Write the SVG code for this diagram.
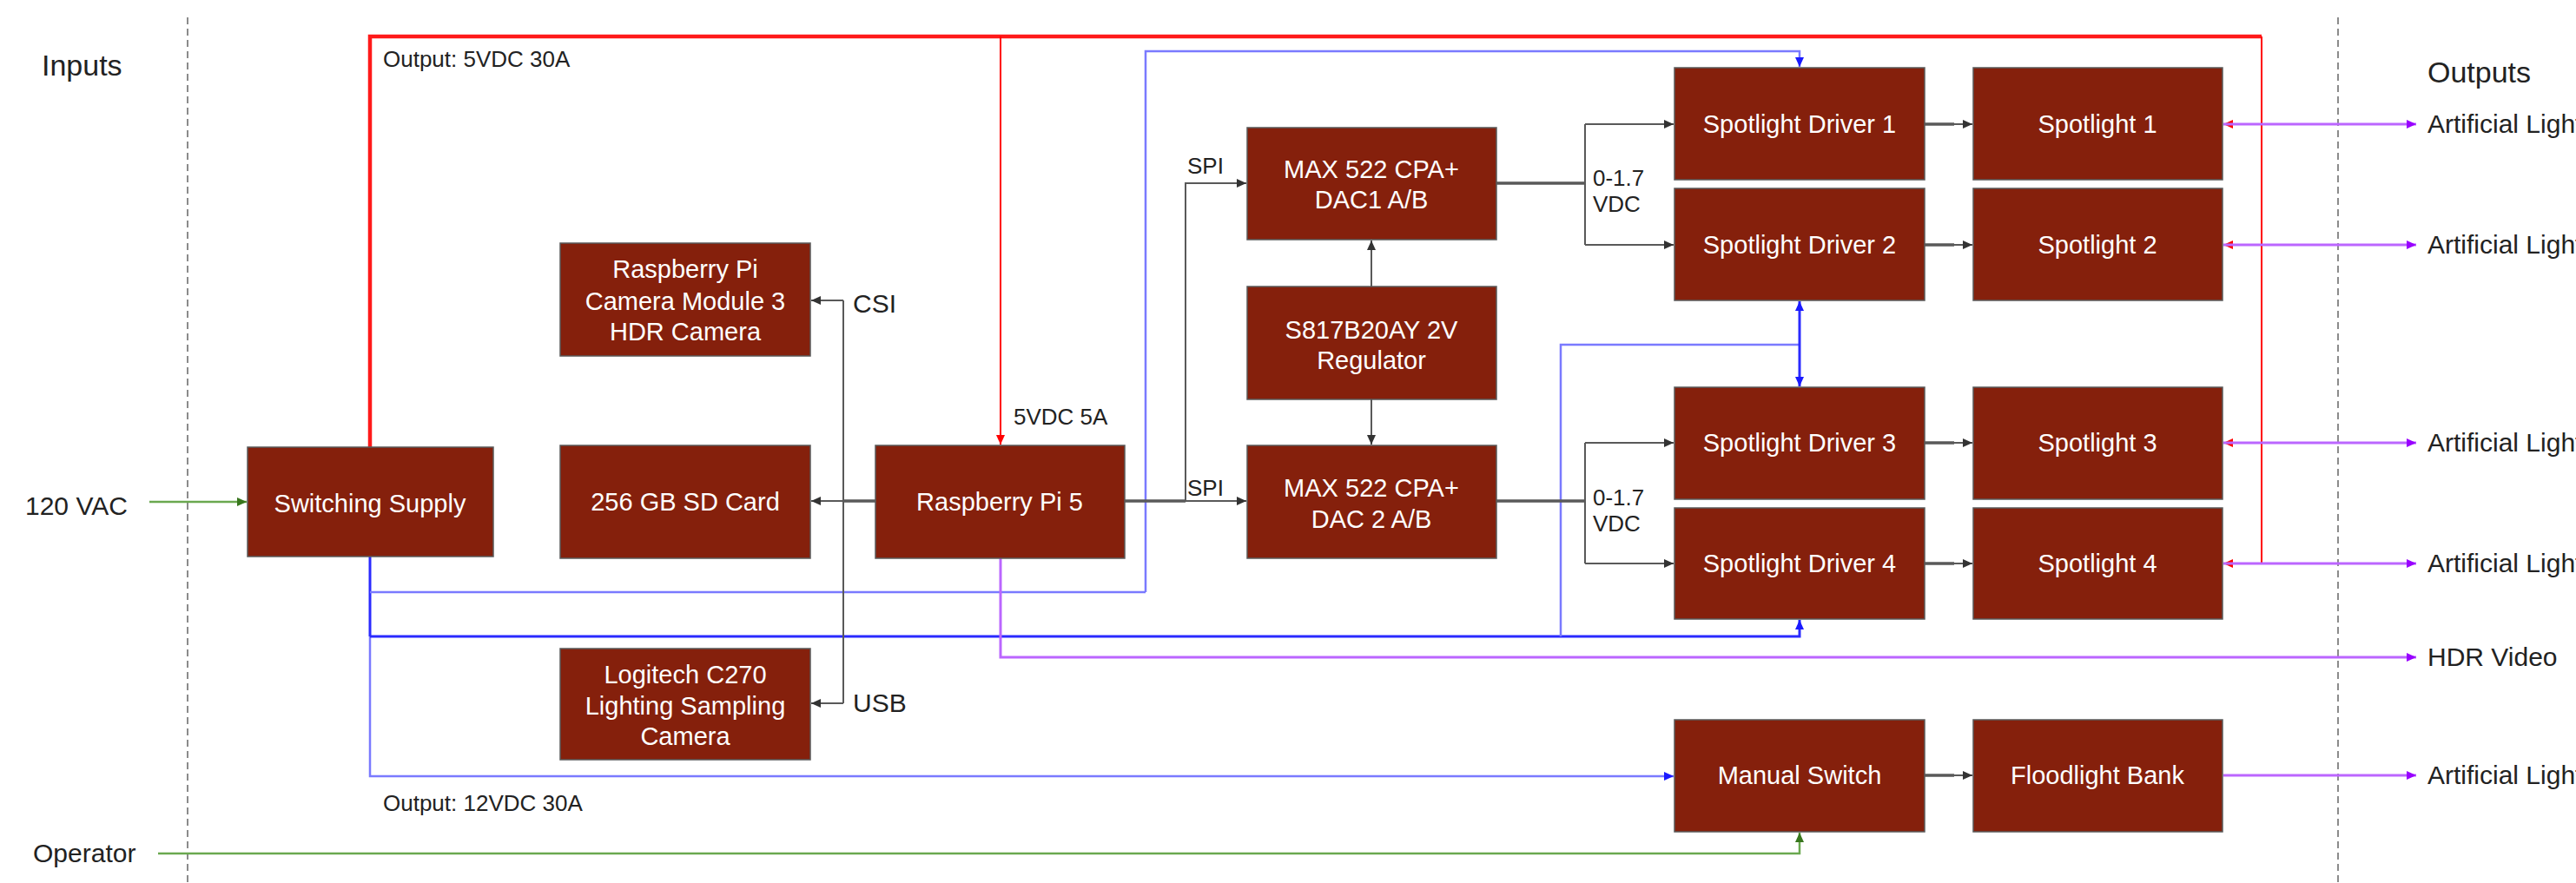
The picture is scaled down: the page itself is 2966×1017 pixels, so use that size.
<svg xmlns="http://www.w3.org/2000/svg" width="2966" height="1017" viewBox="0 0 2966 1017">
<style>
.box{fill:#85200c;stroke:#5a5a5a;stroke-width:1.5}
.bt{font-family:"Liberation Sans",Arial,sans-serif;font-size:29px;fill:#ffffff;text-anchor:middle}
.lb{font-family:"Liberation Sans",Arial,sans-serif;font-size:30px;fill:#222222}
.sm{font-family:"Liberation Sans",Arial,sans-serif;font-size:26px;fill:#222222}
.hd{font-family:"Liberation Sans",Arial,sans-serif;font-size:34px;fill:#222222}
.g{fill:none;stroke:#595959;stroke-width:2}
.gt{fill:none;stroke:#595959;stroke-width:3.5}
.r{fill:none;stroke:#ff0000;stroke-width:2}
.rt{fill:none;stroke:#ff1a1a;stroke-width:4.5}
.b{fill:none;stroke:#2a2aff;stroke-width:3}
.bl{fill:none;stroke:#7a7aff;stroke-width:2.5}
.p{fill:none;stroke:#bb66ff;stroke-width:3}
.gr{fill:none;stroke:#6aa84f;stroke-width:2.5}
.dash{fill:none;stroke:#666666;stroke-width:1.5;stroke-dasharray:8 5}
</style>
<defs>
<marker id="ag" markerUnits="userSpaceOnUse" markerWidth="12" markerHeight="10" refX="11" refY="5" orient="auto"><path d="M0,0 L11,5 L0,10 z" fill="#333333"/></marker>
<marker id="ar" markerUnits="userSpaceOnUse" markerWidth="12" markerHeight="10" refX="11" refY="5" orient="auto"><path d="M0,0 L11,5 L0,10 z" fill="#ff0000"/></marker>
<marker id="ab" markerUnits="userSpaceOnUse" markerWidth="12" markerHeight="10" refX="11" refY="5" orient="auto"><path d="M0,0 L11,5 L0,10 z" fill="#1a1aff"/></marker>
<marker id="ap" markerUnits="userSpaceOnUse" markerWidth="12" markerHeight="10" refX="11" refY="5" orient="auto"><path d="M0,0 L11,5 L0,10 z" fill="#9900ff"/></marker>
<marker id="agr" markerUnits="userSpaceOnUse" markerWidth="12" markerHeight="10" refX="11" refY="5" orient="auto"><path d="M0,0 L11,5 L0,10 z" fill="#38761d"/></marker>
</defs>
<rect width="2966" height="1017" fill="#ffffff"/>

<g id="frame">
<line class="dash" x1="216" y1="20" x2="216" y2="1017"/>
<line class="dash" x1="2692" y1="20" x2="2692" y2="1017"/>
<text class="hd" x="48" y="87">Inputs</text>
<text class="hd" x="2795" y="95">Outputs</text>
<text class="lb" x="29" y="593">120 VAC</text>
<text class="lb" x="38" y="993">Operator</text>
<text class="sm" x="441" y="77">Output: 5VDC 30A</text>
<text class="sm" x="441" y="934">Output: 12VDC 30A</text>
<text class="lb" x="982" y="360">CSI</text>
<text class="lb" x="982" y="820">USB</text>
<text class="sm" x="1367" y="200">SPI</text>
<text class="sm" x="1367" y="571">SPI</text>
<text class="sm" x="1167" y="489">5VDC 5A</text>
<text class="sm" x="1834" y="214">0-1.7</text>
<text class="sm" x="1834" y="244">VDC</text>
<text class="sm" x="1834" y="582">0-1.7</text>
<text class="sm" x="1834" y="612">VDC</text>
<text class="lb" x="2795" y="153">Artificial Light</text>
<text class="lb" x="2795" y="292">Artificial Light</text>
<text class="lb" x="2795" y="520">Artificial Light</text>
<text class="lb" x="2795" y="659">Artificial Light</text>
<text class="lb" x="2795" y="767">HDR Video</text>
<text class="lb" x="2795" y="903">Artificial Light</text>
</g>

<g id="connectors">
<path class="gr" d="M172,578 H284" marker-end="url(#agr)"/>
<path class="gr" d="M182,983 H2072 V959" marker-end="url(#agr)"/>
<path class="rt" d="M426,515 V42 H2604"/>
<path class="r" d="M2604,42 V649"/>
<path class="r" d="M1152,42 V512" marker-end="url(#ar)"/>
<path class="r" d="M2604,143 H2560" marker-end="url(#ar)"/>
<path class="r" d="M2604,282 H2560" marker-end="url(#ar)"/>
<path class="r" d="M2604,510 H2560" marker-end="url(#ar)"/>
<path class="r" d="M2604,649 H2560" marker-end="url(#ar)"/>
<path class="b" d="M426,641 V733"/>
<path class="bl" d="M426,733 V894 H1927" marker-end="url(#ab)"/>
<path class="bl" d="M426,682 H1319"/>
<path class="bl" d="M1319,682 V59 H2072 V77" marker-end="url(#ab)"/>
<path class="b" d="M426,733 H2072 V714" marker-end="url(#ab)"/>
<path class="bl" d="M1797,733 V397 H2072"/>
<path class="b" d="M2072,397 V347" marker-end="url(#ab)"/>
<path class="b" d="M2072,397 V445" marker-end="url(#ab)"/>
<path class="p" d="M1152,643 V757 H2782" marker-end="url(#ap)"/>
<path class="p" d="M2560,143 H2782" marker-end="url(#ap)"/>
<path class="p" d="M2560,282 H2782" marker-end="url(#ap)"/>
<path class="p" d="M2560,510 H2782" marker-end="url(#ap)"/>
<path class="p" d="M2560,649 H2782" marker-end="url(#ap)"/>
<path class="p" d="M2560,893 H2782" marker-end="url(#ap)"/>
<path class="gt" d="M1008,577 H971"/>
<path class="g" d="M971,577 H934" marker-end="url(#ag)"/>
<path class="g" d="M971,346 V810"/>
<path class="g" d="M971,346 H934" marker-end="url(#ag)"/>
<path class="g" d="M971,810 H934" marker-end="url(#ag)"/>
<path class="gt" d="M1295,577 H1365"/>
<path class="g" d="M1365,577 H1435" marker-end="url(#ag)"/>
<path class="g" d="M1365,577 V211 H1435" marker-end="url(#ag)"/>
<path class="gt" d="M1723,211 H1825"/>
<path class="g" d="M1825,143 V282"/>
<path class="g" d="M1825,143 H1927" marker-end="url(#ag)"/>
<path class="g" d="M1825,282 H1927" marker-end="url(#ag)"/>
<path class="gt" d="M1723,577 H1825"/>
<path class="g" d="M1825,510 V649"/>
<path class="g" d="M1825,510 H1927" marker-end="url(#ag)"/>
<path class="g" d="M1825,649 H1927" marker-end="url(#ag)"/>
<path class="g" d="M1579,330 V277" marker-end="url(#ag)"/>
<path class="g" d="M1579,460 V512" marker-end="url(#ag)"/>
<path class="gt" d="M2216,143 H2250"/><path class="g" d="M2250,143 H2271" marker-end="url(#ag)"/>
<path class="gt" d="M2216,282 H2250"/><path class="g" d="M2250,282 H2271" marker-end="url(#ag)"/>
<path class="gt" d="M2216,510 H2250"/><path class="g" d="M2250,510 H2271" marker-end="url(#ag)"/>
<path class="gt" d="M2216,649 H2250"/><path class="g" d="M2250,649 H2271" marker-end="url(#ag)"/>
<path class="gt" d="M2216,893 H2250"/><path class="g" d="M2250,893 H2271" marker-end="url(#ag)"/>
</g>

<g id="switching-supply"><rect class="box" x="285" y="515" width="283" height="126"/><text class="bt" x="426" y="590">Switching Supply</text></g>
<g id="camera-module"><rect class="box" x="645" y="280" width="288" height="130"/><text class="bt" x="789" y="320">Raspberry Pi</text><text class="bt" x="789" y="357">Camera Module 3</text><text class="bt" x="789" y="392">HDR Camera</text></g>
<g id="sd-card"><rect class="box" x="645" y="513" width="288" height="130"/><text class="bt" x="789" y="588">256 GB SD Card</text></g>
<g id="logitech"><rect class="box" x="645" y="747" width="288" height="128"/><text class="bt" x="789" y="787">Logitech C270</text><text class="bt" x="789" y="823">Lighting Sampling</text><text class="bt" x="789" y="858">Camera</text></g>
<g id="raspberry-pi"><rect class="box" x="1008" y="513" width="287" height="130"/><text class="bt" x="1151" y="588">Raspberry Pi 5</text></g>
<g id="dac1"><rect class="box" x="1436" y="147" width="287" height="129"/><text class="bt" x="1579" y="205">MAX 522 CPA+</text><text class="bt" x="1579" y="240">DAC1 A/B</text></g>
<g id="regulator"><rect class="box" x="1436" y="330" width="287" height="130"/><text class="bt" x="1579" y="390">S817B20AY 2V</text><text class="bt" x="1579" y="425">Regulator</text></g>
<g id="dac2"><rect class="box" x="1436" y="513" width="287" height="130"/><text class="bt" x="1579" y="572">MAX 522 CPA+</text><text class="bt" x="1579" y="608">DAC 2 A/B</text></g>
<g id="driver1"><rect class="box" x="1928" y="78" width="288" height="129"/><text class="bt" x="2072" y="153">Spotlight Driver 1</text></g>
<g id="driver2"><rect class="box" x="1928" y="217" width="288" height="129"/><text class="bt" x="2072" y="292">Spotlight Driver 2</text></g>
<g id="driver3"><rect class="box" x="1928" y="446" width="288" height="129"/><text class="bt" x="2072" y="520">Spotlight Driver 3</text></g>
<g id="driver4"><rect class="box" x="1928" y="585" width="288" height="128"/><text class="bt" x="2072" y="659">Spotlight Driver 4</text></g>
<g id="spotlight1"><rect class="box" x="2272" y="78" width="287" height="129"/><text class="bt" x="2415" y="153">Spotlight 1</text></g>
<g id="spotlight2"><rect class="box" x="2272" y="217" width="287" height="129"/><text class="bt" x="2415" y="292">Spotlight 2</text></g>
<g id="spotlight3"><rect class="box" x="2272" y="446" width="287" height="129"/><text class="bt" x="2415" y="520">Spotlight 3</text></g>
<g id="spotlight4"><rect class="box" x="2272" y="585" width="287" height="128"/><text class="bt" x="2415" y="659">Spotlight 4</text></g>
<g id="manual-switch"><rect class="box" x="1928" y="829" width="288" height="129"/><text class="bt" x="2072" y="903">Manual Switch</text></g>
<g id="floodlight-bank"><rect class="box" x="2272" y="829" width="287" height="129"/><text class="bt" x="2415" y="903">Floodlight Bank</text></g>
</svg>
